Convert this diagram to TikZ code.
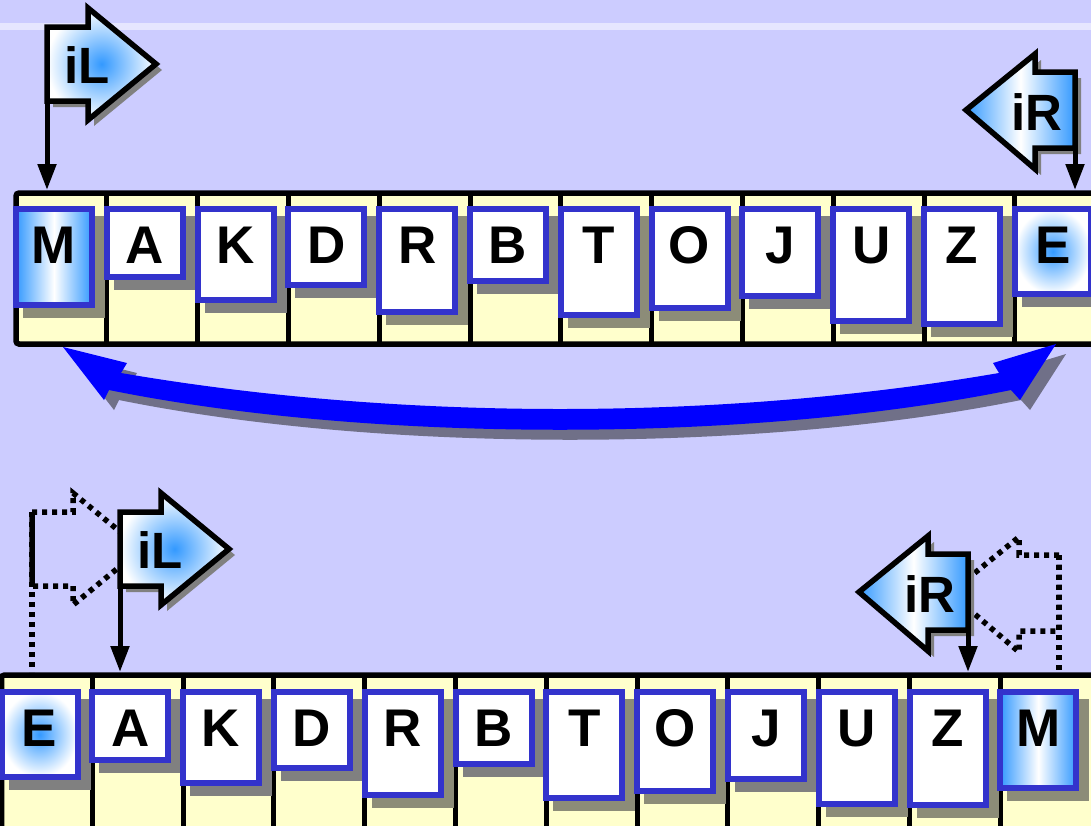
\documentclass[tikz,border=0pt]{standalone}
\usepackage{fontspec}
\setmainfont{Liberation Sans}
\usetikzlibrary{arrows.meta}
\definecolor{bgc}{HTML}{CCCCFF}
\definecolor{stripec}{HTML}{E6E6FF}
\definecolor{cellc}{HTML}{FFFFCC}
\definecolor{cardblue}{HTML}{3333CC}
\definecolor{shadeblue}{HTML}{3399FF}
\definecolor{shGc}{HTML}{808080}
\definecolor{shCc}{HTML}{8C8C78}
\definecolor{arrowblue}{HTML}{0000FF}
\definecolor{arrowshadow}{HTML}{707088}
\tikzset{
  outline/.style={draw=black, line width=5.5pt, line join=miter},
  flagshadow/.style={fill=shGc},
  flagtext/.style={font=\fontsize{51}{58}\selectfont\bfseries, inner sep=0pt, anchor=base},
  ghost/.style={draw=black, line width=5.5pt, dash pattern=on 5pt off 5pt},
  pics/flagright/.style={code={
    \fill[flagshadow, shift={(6,6)}] (0,0) -- (41,0) -- (41,-19) -- (109,37) -- (41,93) -- (41,74) -- (0,74) -- cycle;
    \path[outline, inner color=shadeblue, outer color=white] (0,0) -- (41,0) -- (41,-19) -- (109,37) -- (41,93) -- (41,74) -- (0,74) -- cycle;
    \coordinate (-top) at (0,0);
    \node[flagtext] (-text) at (40,56.5) {#1};
  }},
  pics/flagleft/.style={code={
    \fill[flagshadow, shift={(6,6)}] (0,0) -- (-40,0) -- (-40,-18) -- (-109,38) -- (-40,97) -- (-40,76) -- (0,76) -- cycle;
    \path[outline, left color=shadeblue, right color=shadeblue, middle color=white] (0,0) -- (-40,0) -- (-40,-18) -- (-109,38) -- (-40,97) -- (-40,76) -- (0,76) -- cycle;
    \coordinate (-top) at (0,0);
    \node[flagtext] (-text) at (-38,58.5) {#1};
  }},
  pics/ghostright/.style={code={
    \path[ghost] (0,0) -- (41,0) -- (41,-19) -- (109,37) -- (41,93) -- (41,74) -- (0,74) -- cycle;
    \coordinate (-top) at (0,0);
  }},
  pics/ghostleft/.style={code={
    \path[ghost] (0,0) -- (-40,0) -- (-40,-18) -- (-109,38) -- (-40,97) -- (-40,76) -- (0,76) -- cycle;
    \coordinate (-top) at (0,0);
  }},
}
\begin{document}
\begin{tikzpicture}[x=1pt,y=-1pt,
  card/.style={draw=cardblue, line width=6pt, fill=white, minimum width=76pt, inner sep=0pt, anchor=north west},
  letter/.style={font=\fontsize{53}{60}\selectfont\bfseries, inner sep=0pt, anchor=base},
  shG/.style={fill=shGc}, shC/.style={fill=shCc},
  fW/.style={fill=white},
  fM/.style={left color=shadeblue, right color=shadeblue, middle color=white},
  fE/.style={inner color=shadeblue, outer color=white},
  stick/.style={draw=black, line width=5pt, -{Triangle[length=26pt,width=18pt]}},
  arraybox/.style={draw=black, line width=5.5pt, fill=cellc, rounded corners=3pt},
  divider/.style={draw=black, line width=5pt},
]
\useasboundingbox (0,0) rectangle (1091,825);
\clip (0,0) rectangle (1091,825);
\fill[bgc] (0,0) rectangle (1091,825);
\fill[stripec] (0,23) rectangle (1091,30);

% arrays
\draw[arraybox] (16,193) rectangle (1120,344);
\foreach \i in {1,...,11} \draw[divider] ({16+90.8*\i},193) -- ({16+90.8*\i},344);
\draw[arraybox] (1.5,675) rectangle (1120,860);
\foreach \i in {1,...,11} \draw[divider] ({1.5+90.8*\i},675) -- ({1.5+90.8*\i},860);

% top cards
\foreach \L/\h/\s/\f [count=\i from 0] in {M/102/shC/fM, A/74/shG/fW, K/97/shG/fW, D/82/shG/fW, R/109/shC/fW, B/78/shG/fW, T/112/shC/fW, O/105/shC/fW, J/93/shG/fW, U/118/shC/fW, Z/121/shC/fW, E/91/shG/fE} {
  \pgfmathsetmacro{\cx}{16+90.8*\i}
  \fill[\s] ({\cx+7},216) rectangle ++(82,\h);
  \node[card, \f, minimum height={(\h-6)*1pt}] (top\L) at ({\cx-3},206) {};
  \node[letter] (toptext\L) at ({\cx+38},263) {\L};
}
% bottom cards
\foreach \L/\h/\s/\f [count=\i from 0] in {E/91/shG/fE, A/74/shG/fW, K/97/shG/fW, D/82/shG/fW, R/109/shC/fW, B/78/shG/fW, T/112/shC/fW, O/105/shC/fW, J/93/shG/fW, U/118/shC/fW, Z/119/shC/fW, M/102/shC/fM} {
  \pgfmathsetmacro{\cx}{1.5+90.8*\i}
  \fill[\s] ({\cx+7},699) rectangle ++(82,\h);
  \node[card, \f, minimum height={(\h-6)*1pt}] (bot\L) at ({\cx-3},689) {};
  \node[letter] (bottext\L) at ({\cx+38},746) {\L};
}

% blue double arrow
\fill[arrowshadow, shift={(10,10)}] (63,347) -- (127,363) -- (121,373) .. controls (400,421) and (720,421) .. (999,373) -- (993,363) -- (1056,344) -- (1020,400) -- (1011,390) .. controls (750,443) and (370,443) .. (109,390) -- (104,400) -- cycle;
\fill[arrowblue] (63,347) -- (127,363) -- (121,373) .. controls (400,421) and (720,421) .. (999,373) -- (993,363) -- (1056,344) -- (1020,400) -- (1011,390) .. controls (750,443) and (370,443) .. (109,390) -- (104,400) -- cycle;

% end points of pointer sticks
\coordinate (topILend) at (47,190);
\coordinate (topIRend) at (1075,190);
\coordinate (botILend) at (120,672);
\coordinate (botIRend) at (968,672);
\coordinate (ghostILend) at (32,672);
\coordinate (ghostIRend) at (1059,672);

% ghost flags (old positions)
\pic (gL) at (32,512) {ghostright};
\draw[ghost] (gL-top) -- (ghostILend);
\pic (gR) at (1059,555) {ghostleft};
\draw[ghost] (gR-top) -- (ghostIRend);

% flags
\pic (tL) at (47,27) {flagright=iL};
\draw[stick] (tL-top) -- (topILend);
\pic (tR) at (1075,72) {flagleft=iR};
\draw[stick] (tR-top) -- (topIRend);
\pic (bL) at (120,512) {flagright=iL};
\draw[stick] (bL-top) -- (botILend);
\pic (bR) at (968,554) {flagleft=iR};
\draw[stick] (bR-top) -- (botIRend);
\end{tikzpicture}
\end{document}
